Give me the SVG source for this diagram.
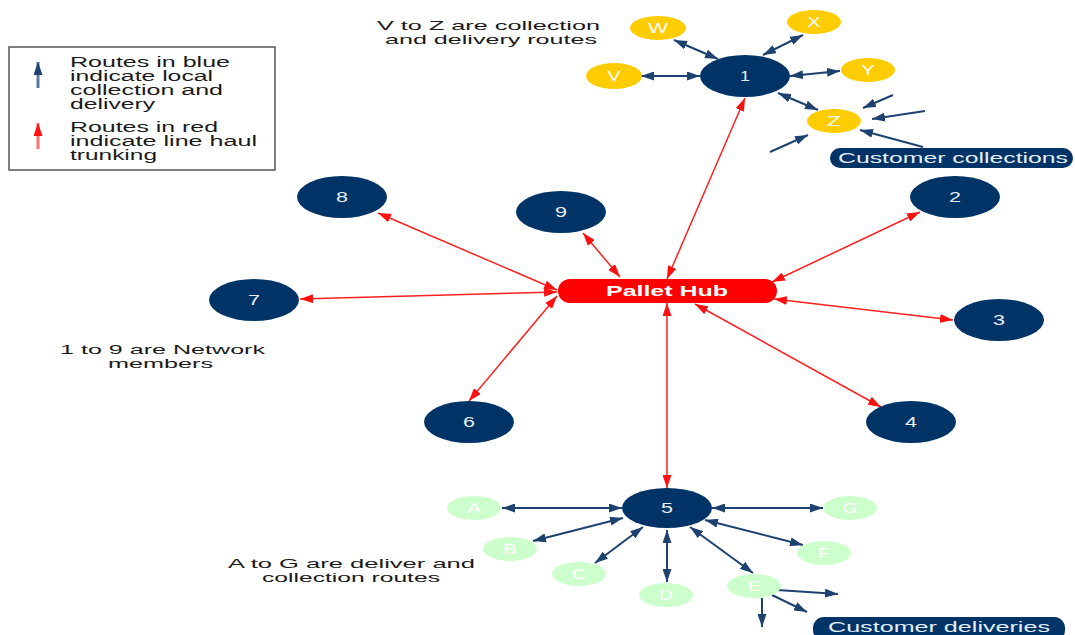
<svg xmlns="http://www.w3.org/2000/svg" width="1075" height="635" viewBox="0 0 1075 635">
<style>
  text { font-family: "Liberation Sans", Arial, sans-serif; }
  .lbl { font-size: 14px; fill: #1a1a1a; }
  .note { font-size: 13px; fill: #1a1a1a; }
  .navy { fill: #003366; }
  .yel { fill: #FFCC00; }
  .grn { fill: #CCFFCC; }
  .num { font-size: 14px; fill: #e6eef8; text-anchor: middle; }
  .let { font-size: 14px; fill: #ffffff; text-anchor: middle; }
  .blue { stroke: #1d426f; stroke-width: 2; fill: none; }
  .red { stroke: #ff2020; stroke-width: 1.5; fill: none; }
  .bb { marker-start: url(#ab); marker-end: url(#ab); }
  .be { marker-end: url(#ab); }
  .rr { marker-start: url(#ar); marker-end: url(#ar); }
</style>
<defs>
  <marker id="ab" markerUnits="userSpaceOnUse" markerWidth="13" markerHeight="9" refX="13" refY="4.5" orient="auto-start-reverse">
    <path d="M0,0 L13,4.5 L0,9 z" fill="#1d426f"/>
  </marker>
  <marker id="ar" markerUnits="userSpaceOnUse" markerWidth="13" markerHeight="9" refX="13" refY="4.5" orient="auto-start-reverse">
    <path d="M0,0 L13,4.5 L0,9 z" fill="#ff1010"/>
  </marker>
</defs>
<rect width="1075" height="635" fill="#ffffff"/>

<g id="legend">
  <rect x="9" y="47" width="266" height="123" fill="#ffffff" stroke="#555555" stroke-width="1.5"/>
  <line x1="38" y1="88" x2="38" y2="62" stroke="#5a7aa0" stroke-width="3" marker-end="url(#ab)"/>
  <line x1="38" y1="149" x2="38" y2="123" stroke="#ff7070" stroke-width="3" marker-end="url(#ar)"/>
  <text class="lbl" x="70" y="67" textLength="160" lengthAdjust="spacingAndGlyphs">Routes in blue</text>
  <text class="lbl" x="70" y="81" textLength="143" lengthAdjust="spacingAndGlyphs">indicate local</text>
  <text class="lbl" x="70" y="95" textLength="153" lengthAdjust="spacingAndGlyphs">collection and</text>
  <text class="lbl" x="70" y="109" textLength="85" lengthAdjust="spacingAndGlyphs">delivery</text>
  <text class="lbl" x="70" y="132" textLength="148" lengthAdjust="spacingAndGlyphs">Routes in red</text>
  <text class="lbl" x="70" y="146" textLength="187" lengthAdjust="spacingAndGlyphs">indicate line haul</text>
  <text class="lbl" x="70" y="160" textLength="87" lengthAdjust="spacingAndGlyphs">trunking</text>
</g>

<g id="notes">
  <text class="note" x="377" y="30" textLength="223" lengthAdjust="spacingAndGlyphs">V to Z are collection</text>
  <text class="note" x="385" y="44" textLength="212" lengthAdjust="spacingAndGlyphs">and delivery routes</text>
  <text class="note" x="60" y="354" textLength="205" lengthAdjust="spacingAndGlyphs">1 to 9 are Network</text>
  <text class="note" x="108" y="368" textLength="105" lengthAdjust="spacingAndGlyphs">members</text>
  <text class="note" x="228" y="568" textLength="247" lengthAdjust="spacingAndGlyphs">A to G are deliver and</text>
  <text class="note" x="262" y="582" textLength="178" lengthAdjust="spacingAndGlyphs">collection routes</text>
</g>

<g id="connectors">
  <!-- red trunking -->
  <path class="red rr" d="M667,279 L745,98"/>
  <path class="red rr" d="M557,290 L378,213"/>
  <path class="red rr" d="M620,277 L583,233"/>
  <path class="red rr" d="M557,292 L300,299"/>
  <path class="red rr" d="M557,296 L469,401"/>
  <path class="red rr" d="M772,282 L920,212"/>
  <path class="red rr" d="M774,299 L953,320"/>
  <path class="red rr" d="M695,304 L881,407"/>
  <path class="red rr" d="M667,303 L667,488"/>
  <!-- blue around 1 -->
  <path class="blue bb" d="M641,76 L700,76"/>
  <path class="blue bb" d="M674,40 L718,59"/>
  <path class="blue bb" d="M803,35 L763,55"/>
  <path class="blue bb" d="M840,71 L790,76"/>
  <path class="blue bb" d="M778,93 L818,110"/>
  <path class="blue be" d="M893,95 L863,108"/>
  <path class="blue be" d="M925,111 L872,119"/>
  <path class="blue be" d="M923,147 L860,130"/>
  <path class="blue be" d="M770,152 L808,135"/>
  <!-- blue around 5 -->
  <path class="blue bb" d="M502,508 L622,508"/>
  <path class="blue bb" d="M712,508 L823,508"/>
  <path class="blue bb" d="M533,541 L623,518"/>
  <path class="blue bb" d="M595,563 L643,527"/>
  <path class="blue bb" d="M667,582 L667,530"/>
  <path class="blue bb" d="M753,573 L690,527"/>
  <path class="blue bb" d="M803,545 L705,520"/>
  <path class="blue be" d="M777,590 L838,594"/>
  <path class="blue be" d="M772,595 L807,612"/>
  <path class="blue be" d="M762,598 L762,627" stroke-width="3"/>
</g>

<g id="hub">
  <rect x="558" y="279" width="219" height="24" rx="12" fill="#ff0000"/>
  <text x="667" y="296" text-anchor="middle" font-size="14" font-weight="bold" fill="#ffffff" textLength="122" lengthAdjust="spacingAndGlyphs">Pallet Hub</text>
</g>

<g id="n1"><ellipse class="navy" cx="745" cy="76" rx="45" ry="21"/><text class="num" x="745" y="81" textLength="10" lengthAdjust="spacingAndGlyphs">1</text></g>
<g id="n2"><ellipse class="navy" cx="955" cy="197" rx="45" ry="21"/><text class="num" x="955" y="202" textLength="12" lengthAdjust="spacingAndGlyphs">2</text></g>
<g id="n3"><ellipse class="navy" cx="999" cy="320" rx="45" ry="21"/><text class="num" x="999" y="325" textLength="12" lengthAdjust="spacingAndGlyphs">3</text></g>
<g id="n4"><ellipse class="navy" cx="911" cy="422" rx="45" ry="21"/><text class="num" x="911" y="427" textLength="12" lengthAdjust="spacingAndGlyphs">4</text></g>
<g id="n5"><ellipse class="navy" cx="667" cy="508" rx="45" ry="20"/><text class="num" x="667" y="513" textLength="12" lengthAdjust="spacingAndGlyphs">5</text></g>
<g id="n6"><ellipse class="navy" cx="469" cy="422" rx="45" ry="21"/><text class="num" x="469" y="427" textLength="12" lengthAdjust="spacingAndGlyphs">6</text></g>
<g id="n7"><ellipse class="navy" cx="254" cy="300" rx="45" ry="21"/><text class="num" x="254" y="305" textLength="12" lengthAdjust="spacingAndGlyphs">7</text></g>
<g id="n8"><ellipse class="navy" cx="342" cy="197" rx="45" ry="21"/><text class="num" x="342" y="202" textLength="12" lengthAdjust="spacingAndGlyphs">8</text></g>
<g id="n9"><ellipse class="navy" cx="561" cy="212" rx="45" ry="21"/><text class="num" x="561" y="217" textLength="12" lengthAdjust="spacingAndGlyphs">9</text></g>

<g id="nV"><ellipse class="yel" cx="614" cy="76" rx="28" ry="13"/><text class="let" x="614" y="81" textLength="13" lengthAdjust="spacingAndGlyphs">V</text></g>
<g id="nW"><ellipse class="yel" cx="658" cy="28" rx="28" ry="12"/><text class="let" x="658" y="33" textLength="20" lengthAdjust="spacingAndGlyphs">W</text></g>
<g id="nX"><ellipse class="yel" cx="814" cy="22" rx="27" ry="12"/><text class="let" x="814" y="27" textLength="13" lengthAdjust="spacingAndGlyphs">X</text></g>
<g id="nY"><ellipse class="yel" cx="868" cy="70" rx="27" ry="12"/><text class="let" x="868" y="75" textLength="14" lengthAdjust="spacingAndGlyphs">Y</text></g>
<g id="nZ"><ellipse class="yel" cx="834" cy="121" rx="27" ry="12"/><text class="let" x="834" y="126" textLength="14" lengthAdjust="spacingAndGlyphs">Z</text></g>

<g id="nA"><ellipse class="grn" cx="474" cy="508" rx="27" ry="12"/><text class="let" x="474" y="513" textLength="14" lengthAdjust="spacingAndGlyphs">A</text></g>
<g id="nB"><ellipse class="grn" cx="510" cy="549" rx="27" ry="12"/><text class="let" x="510" y="554" textLength="14" lengthAdjust="spacingAndGlyphs">B</text></g>
<g id="nC"><ellipse class="grn" cx="579" cy="574" rx="27" ry="12"/><text class="let" x="579" y="579" textLength="14" lengthAdjust="spacingAndGlyphs">C</text></g>
<g id="nD"><ellipse class="grn" cx="666" cy="595" rx="27" ry="12"/><text class="let" x="666" y="600" textLength="14" lengthAdjust="spacingAndGlyphs">D</text></g>
<g id="nE"><ellipse class="grn" cx="754" cy="586" rx="27" ry="12"/><text class="let" x="754" y="591" textLength="12" lengthAdjust="spacingAndGlyphs">E</text></g>
<g id="nF"><ellipse class="grn" cx="824" cy="553" rx="27" ry="12"/><text class="let" x="824" y="558" textLength="12" lengthAdjust="spacingAndGlyphs">F</text></g>
<g id="nG"><ellipse class="grn" cx="850" cy="508" rx="27" ry="12"/><text class="let" x="850" y="513" textLength="15" lengthAdjust="spacingAndGlyphs">G</text></g>

<g id="collections">
  <rect x="830" y="148" width="243" height="20" rx="10" fill="#003366"/>
  <text x="838" y="163" font-size="14" fill="#e6eef8" textLength="230" lengthAdjust="spacingAndGlyphs">Customer collections</text>
</g>
<g id="deliveries">
  <rect x="813" y="617" width="252" height="24" rx="11" fill="#003366"/>
  <text x="828" y="632" font-size="14" fill="#e6eef8" textLength="222" lengthAdjust="spacingAndGlyphs">Customer deliveries</text>
</g>
</svg>
